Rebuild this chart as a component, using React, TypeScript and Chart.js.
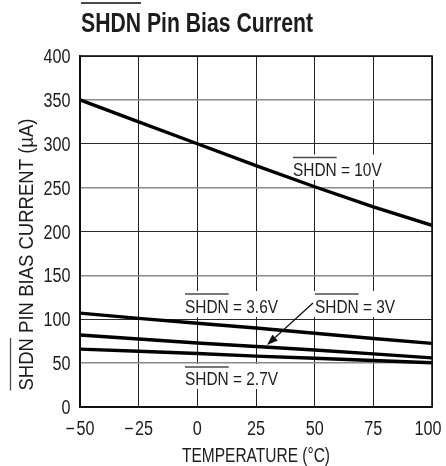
import React, { useEffect, useRef } from "react";
import { Chart, registerables } from "chart.js";

Chart.register(...registerables);

const temps = [-50, -25, 0, 25, 50, 75, 100];
const shdn10V = [350, 325, 300, 275, 251, 228, 207];
const shdn36V = [107, 101, 95.5, 90, 84, 78, 72.5];
const shdn3V = [82, 77.5, 73, 69, 65, 60.5, 56];
const shdn27V = [66, 63.5, 61, 58, 55.5, 53, 50.5];

const xTicks = [-50, -25, 0, 25, 50, 75, 100];
const yTicks = [0, 50, 100, 150, 200, 250, 300, 350, 400];

const titleText = "SHDN Pin Bias Current";
const xTitle = "TEMPERATURE (°C)";
const yTitle = "SHDN PIN BIAS CURRENT (µA)";
const labelTexts = ["SHDN = 10V", "SHDN = 3.6V", "SHDN = 3V", "SHDN = 2.7V"];

const FAMILY = '"Liberation Sans", Arial, sans-serif';
const INK = "#1c1c1c";
const ANN_SIZE = 18.5;

// label anchor: [x, baseline, overline gap]
const annPos: [number, number, number][] = [
  [293, 176, 18.5],
  [185, 313, 19],
  [315, 313, 19],
  [185, 385, 18],
];

function fmt(v: number): string {
  return v < 0 ? "\u2212\u200A" + Math.abs(v) : String(v);
}

type TOpts = {
  size: number;
  bold?: boolean;
  align: "left" | "center" | "right";
  sx?: number;
  width?: number;
  overGap?: number;
};

function drawText(ctx: CanvasRenderingContext2D, text: string, x: number, y: number, o: TOpts) {
  ctx.save();
  ctx.font = `${o.bold ? "bold " : ""}${o.size}px ${FAMILY}`;
  ctx.textBaseline = "alphabetic";
  ctx.textAlign = "left";
  const w = ctx.measureText(text).width;
  const sx = o.width ? o.width / w : o.sx || 1;
  ctx.translate(x, y);
  ctx.scale(sx, 1);
  const x0 = o.align === "left" ? 0 : o.align === "center" ? -w / 2 : -w;
  ctx.fillStyle = INK;
  ctx.fillText(text, x0, 0);
  if (o.overGap) {
    const ws = ctx.measureText("SHDN").width;
    ctx.strokeStyle = "#4a4a4a";
    ctx.lineWidth = o.bold ? 2 : 1.3;
    ctx.beginPath();
    ctx.moveTo(x0, -o.overGap);
    ctx.lineTo(x0 + ws, -o.overGap);
    ctx.stroke();
  }
  ctx.restore();
  return sx;
}

function annScale(ctx: CanvasRenderingContext2D) {
  ctx.save();
  ctx.font = `${ANN_SIZE}px ${FAMILY}`;
  const s = 93 / ctx.measureText(labelTexts[1]).width;
  ctx.restore();
  return s;
}

const textPlugin = {
  id: "texts",
  beforeDatasetsDraw(chart: any) {
    const ctx: CanvasRenderingContext2D = chart.ctx;
    const sx = annScale(ctx);
    ctx.save();
    ctx.font = `${ANN_SIZE}px ${FAMILY}`;
    ctx.fillStyle = "#fff";
    labelTexts.forEach((t, i) => {
      const [x, y, g] = annPos[i];
      const w = ctx.measureText(t).width * sx;
      ctx.fillRect(x - 2, y - g - 3, w + 4, g + 7);
    });
    ctx.restore();
  },
  afterDraw(chart: any) {
    const ctx: CanvasRenderingContext2D = chart.ctx;
    const a = chart.chartArea;
    const xs = chart.scales.x;
    const ys = chart.scales.y;
    ctx.save();
    // frame
    ctx.strokeStyle = "#111";
    ctx.lineWidth = 1.6;
    ctx.strokeRect(a.left, a.top, a.right - a.left, a.bottom - a.top);

    // tick labels
    const tickSize = 19.5;
    const tickSx = 0.83;
    yTicks.forEach((v) => {
      drawText(ctx, fmt(v), a.left - 9.5, ys.getPixelForValue(v) + 7, { size: tickSize, align: "right", sx: tickSx });
    });
    xTicks.forEach((v) => {
      const cx = xs.getPixelForValue(v);
      drawText(ctx, fmt(v), Math.min(cx, 428), 435, { size: tickSize, align: "center", sx: tickSx });
    });

    // title
    drawText(ctx, titleText, 81, 32, { size: 27, bold: true, align: "left", width: 232, overGap: 29 });

    // x title
    drawText(ctx, xTitle, (a.left + a.right) / 2, 462, { size: 19.5, align: "center", width: 148 });

    // y title
    ctx.save();
    ctx.translate(32.5, 254.5);
    ctx.rotate(-Math.PI / 2);
    drawText(ctx, yTitle, 0, 0, { size: 19.5, align: "center", width: 272, overGap: 22 });
    ctx.restore();

    // annotations
    const annSx = annScale(ctx);
    labelTexts.forEach((t, i) => {
      const [x, y, g] = annPos[i];
      drawText(ctx, t, x, y, { size: ANN_SIZE, align: "left", sx: annSx, overGap: g });
    });

    // arrow
    const x0 = 313, y0 = 303, x1 = 267, y1 = 345;
    ctx.strokeStyle = "#111";
    ctx.fillStyle = "#111";
    ctx.lineWidth = 1.3;
    const ang = Math.atan2(y1 - y0, x1 - x0);
    const hl = 11, hw = 4;
    const bx = x1 - hl * Math.cos(ang), by = y1 - hl * Math.sin(ang);
    ctx.beginPath();
    ctx.moveTo(x0, y0);
    ctx.lineTo(bx, by);
    ctx.stroke();
    ctx.beginPath();
    ctx.moveTo(x1, y1);
    ctx.lineTo(bx + hw * Math.sin(ang), by - hw * Math.cos(ang));
    ctx.lineTo(bx - hw * Math.sin(ang), by + hw * Math.cos(ang));
    ctx.closePath();
    ctx.fill();
    ctx.restore();
  },
};

export default function App() {
  const ref = useRef<HTMLCanvasElement | null>(null);
  useEffect(() => {
    const canvas = ref.current;
    if (!canvas) return;
    const series = [shdn10V, shdn36V, shdn3V, shdn27V];
    const chart = new Chart(canvas, {
      type: "line",
      data: {
        datasets: series.map((vals) => ({
          data: temps.map((t, i) => ({ x: t, y: vals[i] })),
          borderColor: "#000",
          borderWidth: 3.4,
          pointRadius: 0,
          tension: 0,
          fill: false,
        })),
      },
      options: {
        animation: false,
        responsive: false,
        devicePixelRatio: 1,
        layout: { padding: { left: 0, right: 14, top: 56, bottom: 0 } },
        plugins: { legend: { display: false }, tooltip: { enabled: false } },
        scales: {
          x: {
            type: "linear",
            min: -50,
            max: 100,
            afterBuildTicks: (s: any) => {
              s.ticks = xTicks.map((v) => ({ value: v }));
            },
            ticks: { display: false },
            grid: { color: "#222", lineWidth: 1, drawTicks: false },
            border: { color: "#111", width: 1.6 },
            afterFit: (s: any) => {
              s.height = 59;
            },
          },
          y: {
            type: "linear",
            min: 0,
            max: 400,
            afterBuildTicks: (s: any) => {
              s.ticks = yTicks.map((v) => ({ value: v }));
            },
            ticks: { display: false },
            grid: {
              color: (c: any) => (c.tick && c.tick.value % 100 === 0 ? "#2a2a2a" : "#8a8a8a"),
              lineWidth: (c: any) => (c.tick && c.tick.value % 100 === 0 ? 1 : 1.5),
              drawTicks: false,
            },
            border: { color: "#111", width: 1.6 },
            afterFit: (s: any) => {
              s.width = 80;
            },
          },
        },
      },
      plugins: [textPlugin],
    } as any);
    return () => chart.destroy();
  }, []);
  return (
    <div style={{ position: "fixed", left: 0, top: 0, width: 446, height: 466, background: "#fff" }}>
      <canvas ref={ref} width={446} height={466} style={{ display: "block", width: 446, height: 466 }} />
    </div>
  );
}
